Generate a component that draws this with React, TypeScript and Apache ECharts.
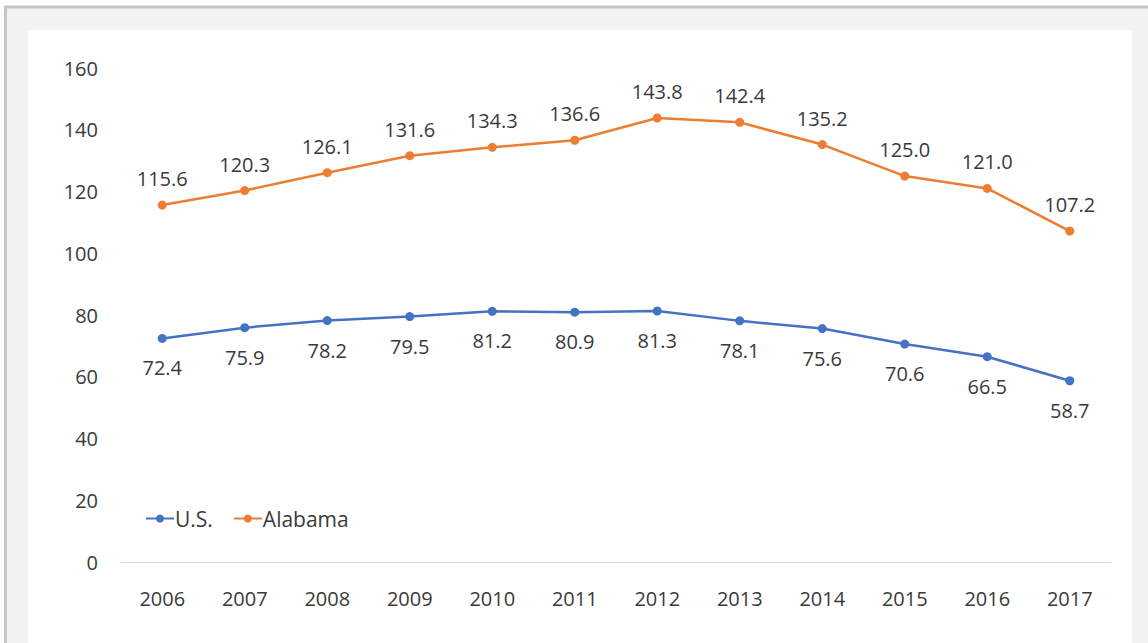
import React, { useEffect, useRef } from "react";
import * as echarts from "echarts";

const years = ["2006", "2007", "2008", "2009", "2010", "2011", "2012", "2013", "2014", "2015", "2016", "2017"];
const usValues = [72.4, 75.9, 78.2, 79.5, 81.2, 80.9, 81.3, 78.1, 75.6, 70.6, 66.5, 58.7];
const alabamaValues = [115.6, 120.3, 126.1, 131.6, 134.3, 136.6, 143.8, 142.4, 135.2, 125.0, 121.0, 107.2];

export default function App() {
  const ref = useRef<HTMLDivElement>(null);
  useEffect(() => {
    if (!ref.current) return;
    const chart = echarts.init(ref.current, null, { renderer: "svg" });
    const font = "'Open Sans', 'DejaVu Sans', sans-serif";
    const txt = "#3a3a3a";
    chart.setOption({
      animation: false,
      backgroundColor: "#ffffff",
      graphic: [
        {
          type: "rect",
          shape: { x: 5.5, y: 7, width: 1200, height: 700 },
          style: { fill: "#f2f2f2", stroke: "#c6c6c6", lineWidth: 3 },
          z: -10,
        },
        {
          type: "rect",
          shape: { x: 28, y: 30, width: 1104, height: 700 },
          style: { fill: "#ffffff" },
          z: -9,
        },
      ],
      grid: { left: 121, right: 37, top: 68, bottom: 81 },
      legend: {
        left: 140,
        top: 503,
        itemWidth: 28,
        itemHeight: 10,
        itemGap: 20,
        textStyle: { fontSize: 21, color: txt, fontFamily: font, padding: [0, 0, 0, -4] },
        data: ["U.S.", "Alabama"],
      },
      xAxis: {
        type: "category",
        data: years,
        boundaryGap: true,
        axisLine: { lineStyle: { color: "#d9d9d9", width: 1 } },
        axisTick: { show: false },
        axisLabel: { fontSize: 20, color: txt, margin: 26, fontFamily: font },
      },
      yAxis: {
        type: "value",
        min: 0,
        max: 160,
        interval: 20,
        splitLine: { show: false },
        axisLine: { show: false },
        axisTick: { show: false },
        axisLabel: { fontSize: 20, color: txt, margin: 23, fontFamily: font },
      },
      series: [
        {
          name: "U.S.",
          type: "line",
          data: usValues,
          color: "#4472c4",
          symbol: "circle",
          symbolSize: 9,
          lineStyle: { width: 2.5 },
          label: {
            show: true,
            position: "bottom",
            distance: 15,
            fontSize: 20,
            color: txt,
            fontFamily: font,
            formatter: (p: any) => p.value.toFixed(1),
          },
        },
        {
          name: "Alabama",
          type: "line",
          data: alabamaValues,
          color: "#ed7d31",
          symbol: "circle",
          symbolSize: 9,
          lineStyle: { width: 2.5 },
          label: {
            show: true,
            position: "top",
            distance: 12,
            fontSize: 20,
            color: txt,
            fontFamily: font,
            formatter: (p: any) => p.value.toFixed(1),
          },
        },
      ],
    });
    return () => chart.dispose();
  }, []);
  return (
    <div
      ref={ref}
      style={{ position: "fixed", left: 0, top: 0, width: 1148, height: 643 }}
    />
  );
}
